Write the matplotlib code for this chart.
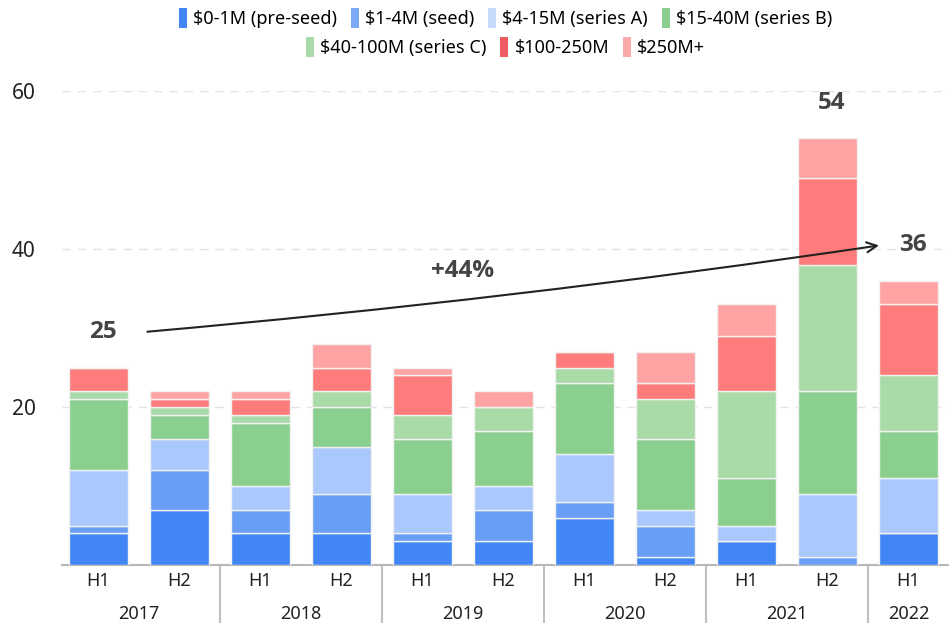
import matplotlib.pyplot as plt
from matplotlib.patches import Patch

plt.rcParams['font.family'] = ['Noto Sans', 'DejaVu Sans']

# half-year periods
halves = ["H1", "H2", "H1", "H2", "H1", "H2", "H1", "H2", "H1", "H2", "H1"]
years = ["2017", "2018", "2019", "2020", "2021", "2022"]

# number of rounds per funding stage, bottom to top
stages = ["$0-1M (pre-seed)", "$1-4M (seed)", "$4-15M (series A)", "$15-40M (series B)",
          "$40-100M (series C)", "$100-250M", "$250M+"]
pre_seed = [4, 7, 4, 4, 3, 3, 6, 1, 3, 0, 4]
seed = [1, 5, 3, 5, 1, 4, 2, 4, 0, 1, 0]
series_a = [7, 4, 3, 6, 5, 3, 6, 2, 2, 8, 7]
series_b = [9, 3, 8, 5, 7, 7, 9, 9, 6, 13, 6]
series_c = [1, 1, 1, 2, 3, 3, 2, 5, 11, 16, 7]
m100_250 = [3, 1, 2, 3, 5, 0, 2, 2, 7, 11, 9]
m250_plus = [0, 1, 1, 3, 1, 2, 0, 4, 4, 5, 3]

colors = ["#4285f4", "#699ef7", "#aac8fb", "#8bcf8f", "#a8dba8", "#ff7c7c", "#ffa3a3"]
legend_colors = ["#4285f4", "#7ba8f7", "#c8dafc", "#8bcf8f", "#a8dba8", "#ee5b62", "#ffaaaa"]

series = [pre_seed, seed, series_a, series_b, series_c, m100_250, m250_plus]

fig = plt.figure(figsize=(9.49, 6.23), dpi=100)
ax = fig.add_axes([0.0653, 0.093, 0.9347, 0.761])

x = list(range(len(halves)))
bottom = [0] * len(halves)
for vals, col in zip(series, colors):
    ax.bar(x, vals, width=0.72, bottom=bottom, color=col, edgecolor="#f2f2f2", linewidth=1.0, zorder=3)
    bottom = [b + v for b, v in zip(bottom, vals)]
totals = bottom

ax.set_xlim(-0.45, 10.5)
ax.set_ylim(0, 60)
ax.set_yticks([20, 40, 60])
ax.yaxis.grid(True, color="#e3e3e3", linestyle=(0, (6, 5)), linewidth=1, zorder=0)
for s in ["top", "right", "left"]:
    ax.spines[s].set_visible(False)
ax.spines["bottom"].set_color("#b8b8b8")
ax.spines["bottom"].set_linewidth(1.5)
ax.tick_params(axis="y", length=0, labelsize=15, pad=19, labelcolor="#222222")
ax.tick_params(axis="x", length=0, labelsize=13, pad=5, labelcolor="#222222")
ax.set_xticks(x)
ax.set_xticklabels(halves)

# year labels and separators below the axis
year_idx = [[0, 1], [2, 3], [4, 5], [6, 7], [8, 9], [10]]
for yr, idx in zip(years, year_idx):
    ax.text(sum(idx) / len(idx), -6.2, yr, ha="center", va="center", fontsize=13,
            color="#222222", transform=ax.transData, clip_on=False)
for idx in year_idx[1:]:
    ax.plot([idx[0] - 0.5, idx[0] - 0.5], [0, -7.2], color="#c0c0c0", linewidth=1.5,
            clip_on=False, zorder=1)

# value labels and growth arrow
bold = dict(fontsize=17.5, fontweight="bold", color="#444444", family=["Open Sans", "DejaVu Sans"])
off = 4.5
for i in [0, 9, 10]:
    ax.text(i + 0.05, totals[i] + off, str(totals[i]), ha="center", va="center", **bold)
pct = round((totals[10] - totals[0]) / totals[0] * 100)
ax.annotate("", xy=(10 - 0.33, totals[10] + off), xytext=(0 + 0.57, totals[0] + off),
            arrowprops=dict(arrowstyle="->", color="#222222", lw=1.5,
                            connectionstyle="arc3,rad=0.015", mutation_scale=18),
            zorder=5)
ax.text(4.5, (totals[0] + totals[10]) / 2 + off + 2.2, f"+{pct}%", ha="center", va="center", **bold)

# legend in two centered rows
handles = [Patch(facecolor=c, edgecolor="none") for c in legend_colors]
leg_kw = dict(frameon=False, fontsize=13, handlelength=0.45, handleheight=1.3,
              handletextpad=0.35, columnspacing=0.75, borderaxespad=0, loc="center")
leg1 = ax.legend(handles[:4], stages[:4], ncol=4, bbox_to_anchor=(0.5, 1.154), **leg_kw)
ax.add_artist(leg1)
ax.legend(handles[4:], stages[4:], ncol=3, bbox_to_anchor=(0.5, 1.093), **leg_kw)

fig.savefig("out.png", dpi=100)
